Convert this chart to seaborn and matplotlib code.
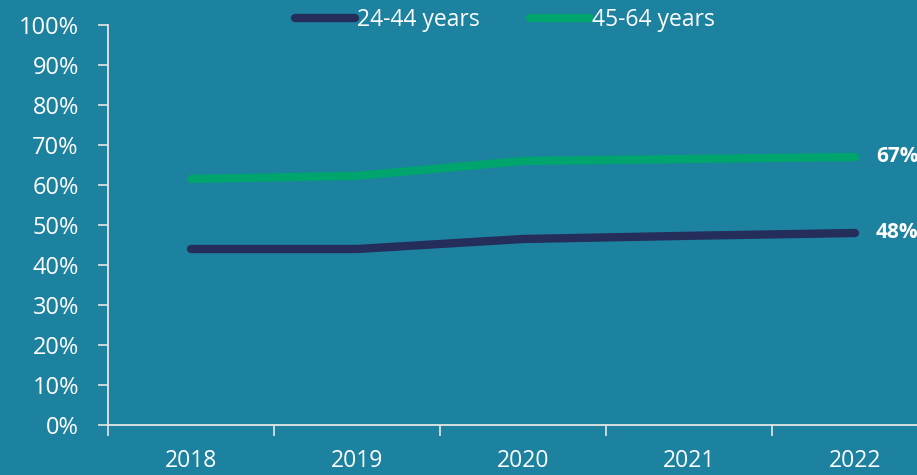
import matplotlib
matplotlib.use("Agg")
import matplotlib.pyplot as plt
import seaborn as sns
import pandas as pd
from matplotlib.lines import Line2D

years = ["2018", "2019", "2020", "2021", "2022"]
age_24_44 = [44.0, 44.0, 46.5, 47.3, 48.0]
age_45_64 = [61.5, 62.3, 66.0, 66.5, 67.0]
series_names = ["24-44 years", "45-64 years"]
end_labels = ["48%", "67%"]
y_ticks = list(range(0, 101, 10))

bg = "#1C82A0"
colors = ["#252D5A", "#00A56E"]

sns.set_theme(style="white")
plt.rcParams["font.family"] = ["Open Sans", "DejaVu Sans"]

df = pd.DataFrame({
    "year": list(range(len(years))) * 2,
    "value": age_24_44 + age_45_64,
    "series": [series_names[0]] * len(years) + [series_names[1]] * len(years),
})

fig = plt.figure(figsize=(9.17, 4.75), dpi=100, facecolor=bg)
ax = fig.add_axes([108 / 917, 50 / 475, 830 / 917, 400 / 475])
ax.set_facecolor(bg)

sns.lineplot(data=df, x="year", y="value", hue="series", palette=colors,
             linewidth=6, ax=ax, legend=False, solid_capstyle="round")

ax.set_xlim(-0.5, 4.5)
ax.set_ylim(0, 100)
ax.set_yticks(y_ticks)
ax.set_yticklabels([f"{v}%" for v in y_ticks])
ax.set_xticks(range(len(years)))
ax.set_xticklabels(years)
ax.set_xticks([i - 0.5 for i in range(len(years) + 1)], minor=True)
ax.tick_params(axis="x", which="major", bottom=True, length=0, pad=17, labelsize=16.5, labelcolor="white")
ax.tick_params(axis="x", which="minor", bottom=True, length=8, width=1.2, color="#E6E6E6", direction="out")
ax.tick_params(axis="y", which="major", left=True, length=7, width=1.2, color="#E6E6E6", pad=14,
               labelsize=17, labelcolor="white", direction="out")
ax.set_xlabel("")
ax.set_ylabel("")

for s in ["top", "right"]:
    ax.spines[s].set_visible(False)
for s in ["left", "bottom"]:
    ax.spines[s].set_color("#E6E6E6")
    ax.spines[s].set_linewidth(1.3)

for vals, lab in zip([age_24_44, age_45_64], end_labels):
    ax.annotate(lab, xy=(len(years) - 1, vals[-1]), xytext=(15, 0),
                textcoords="offset points", color="white", fontsize=15,
                fontweight="bold", va="center", ha="left", annotation_clip=False)

handles = [Line2D([0], [0], color=c, linewidth=6, solid_capstyle="round") for c in colors]
leg = fig.legend(handles, series_names, loc="center", bbox_to_anchor=(505 / 917, 1 - 20 / 475),
                 ncol=2, frameon=False, fontsize=16.5, handlelength=2.6, handletextpad=0.1,
                 columnspacing=2.2)
for t in leg.get_texts():
    t.set_color("white")

fig.savefig("out.png", dpi=100, facecolor=bg)
